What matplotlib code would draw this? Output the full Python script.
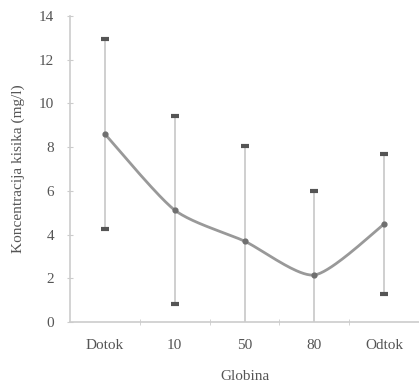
import numpy as np
import matplotlib.pyplot as plt

categories = ["Dotok", "10", "50", "80", "Odtok"]
means = [8.6, 5.12, 3.7, 2.15, 4.48]
errors = [4.35, 4.3, 4.35, 3.85, 3.2]

plt.rcParams['font.family'] = ['Liberation Serif', 'DejaVu Serif']


def smooth(xs, ys, k=0.12, n=40):
    # cubic bezier through the points, like a spreadsheet "smoothed line"
    pts = np.column_stack([xs, ys]).astype(float)
    m = len(pts)
    out = []
    t = np.linspace(0, 1, n)[:, None]
    for i in range(m - 1):
        p1, p2 = pts[i], pts[i + 1]
        p0 = pts[i - 1] if i > 0 else p1
        p3 = pts[i + 2] if i + 2 < m else p2
        c1 = p1 + k * (p2 - p0)
        c2 = p2 - k * (p3 - p1)
        seg = ((1 - t) ** 3 * p1 + 3 * (1 - t) ** 2 * t * c1
               + 3 * (1 - t) * t ** 2 * c2 + t ** 3 * p2)
        out.append(seg)
    out = np.vstack(out)
    return out[:, 0], out[:, 1]


x = np.arange(len(categories))

fig = plt.figure(figsize=(4.19, 3.86), dpi=100)
ax = fig.add_axes([70 / 419, 1 - 322 / 386, 1 - 70 / 419, (322 - 16) / 386])

ax.errorbar(x, means, yerr=errors, fmt='none', ecolor='#cccccc', elinewidth=1.3,
            capsize=0, zorder=2)
# darker caps
caps_y = np.concatenate([np.array(means) + np.array(errors), np.array(means) - np.array(errors)])
ax.scatter(np.concatenate([x, x]), caps_y, marker='_', s=40, linewidths=3,
           color='#555555', zorder=3)

sx, sy = smooth(x, means)
ax.plot(sx, sy, color='#999999', lw=2, zorder=4)
ax.scatter(x, means, s=12, color='#707070', zorder=5)

ax.set_xlim(-0.5, 4.5)
ax.set_ylim(0, 14)
ax.set_yticks(range(0, 15, 2))
ax.set_xticks(x)
ax.set_xticklabels(categories)
ax.set_xticks(np.arange(0.5, 4.0, 1.0), minor=True)
ax.tick_params(axis='x', which='major', length=0, pad=12, labelsize=11, labelcolor='#555555')
ax.tick_params(axis='x', which='minor', length=5, direction='inout', color='#cccccc')
ax.tick_params(axis='y', length=5, direction='inout', color='#cccccc', labelsize=11,
               labelcolor='#555555', pad=9)

for s in ['top', 'right']:
    ax.spines[s].set_visible(False)
for s in ['left', 'bottom']:
    ax.spines[s].set_color('#cccccc')
    ax.spines[s].set_linewidth(1.2)

ax.set_xlabel("Globina", fontsize=11, color='#555555', labelpad=13)
ax.set_ylabel("Koncentracija kisika (mg/l)", fontsize=11, color='#555555', labelpad=10)

fig.savefig("out.png", dpi=100)
